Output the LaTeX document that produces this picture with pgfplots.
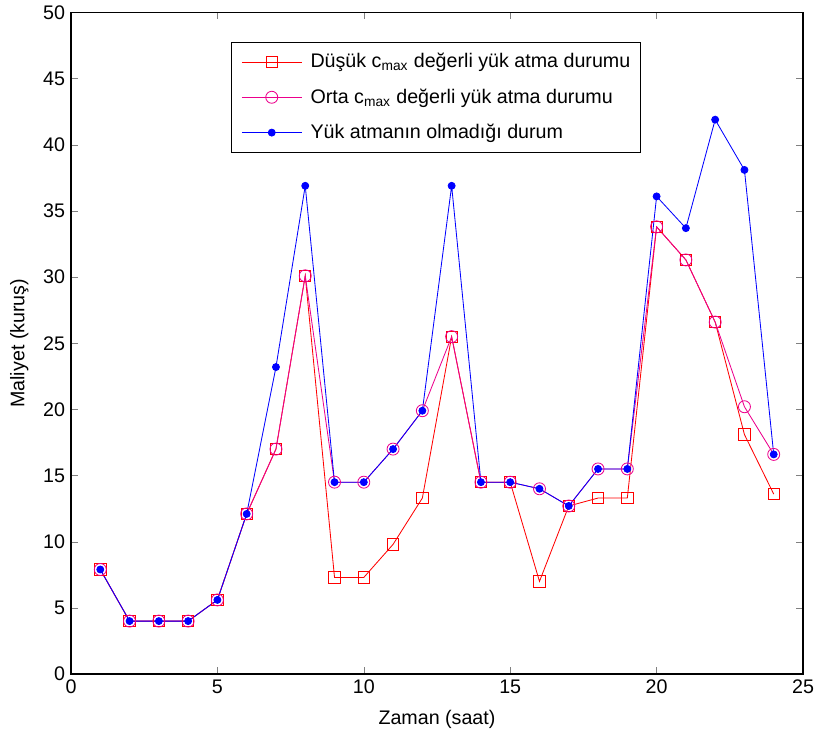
\documentclass[border=0pt]{standalone}
\usepackage{pgfplots}
\pgfplotsset{compat=1.18}
\usepackage{fontspec}
\setmainfont{Liberation Sans}
\begin{document}
\begin{tikzpicture}
\useasboundingbox (-42.6pt,-35.4pt) rectangle (447pt,404.4pt);
\begin{axis}[
  at={(0,0)}, anchor=south west,
  scale only axis, width=439.2pt, height=396.9pt,
  xmin=0, xmax=25, ymin=0, ymax=50,
  xtick={0,5,...,25}, ytick={0,5,...,50},
  tick align=inside, tick pos=both,
  major tick length=4pt,
  /pgf/number format/assume math mode=true,
  tick label style={font=\fontsize{11.8pt}{13pt}\selectfont},
  label style={font=\fontsize{11.8pt}{13pt}\selectfont},
  xlabel={Zaman (saat)}, ylabel={Maliyet (kuruş)},
  xlabel style={yshift=-3pt}, ylabel style={yshift=2pt},
  axis line style={line width=0.8pt},
  legend style={at={(0.2186,0.955)}, anchor=north west,
    font=\fontsize{11.8pt}{13pt}\selectfont, row sep=7pt, inner xsep=4pt, inner ysep=4.5pt,
    cells={anchor=west}},
  legend cell align=left,
  legend image code/.code={
    \path (-2pt,0pt) (39pt,0pt);
    \draw[#1, mark repeat=2, mark phase=2] plot coordinates {(0pt,0pt) (18pt,0pt) (36pt,0pt)};
  },
]
\addplot[color=red, line width=0.5pt, mark=square, mark size=3.4pt, mark options={solid, line width=0.5pt}] coordinates {
(1,7.9) (2,4.0) (3,4.0) (4,4.0) (5,5.6) (6,12.1) (7,17.0) (8,30.1) (9,7.3) (10,7.3)
(11,9.8) (12,13.3) (13,25.5) (14,14.5) (15,14.5) (16,7.0) (17,12.7) (18,13.3) (19,13.3)
(20,33.8) (21,31.3) (22,26.6) (23,18.1) (24,13.6)};
\addlegendentry{Düşük c\textsubscript{max} değerli yük atma durumu}
\addplot[color=magenta, line width=0.5pt, mark=o, mark size=3.6pt, mark options={solid, line width=0.5pt}] coordinates {
(1,7.9) (2,4.0) (3,4.0) (4,4.0) (5,5.6) (6,12.1) (7,17.0) (8,30.1) (9,14.5) (10,14.5)
(11,17.0) (12,19.9) (13,25.5) (14,14.5) (15,14.5) (16,14.0) (17,12.7) (18,15.5) (19,15.5)
(20,33.8) (21,31.3) (22,26.6) (23,20.2) (24,16.6)};
\addlegendentry{Orta c\textsubscript{max} değerli yük atma durumu}
\addplot[color=blue, line width=0.5pt, mark=*, mark size=2.1pt, mark options={solid, fill=blue}] coordinates {
(1,7.9) (2,4.0) (3,4.0) (4,4.0) (5,5.6) (6,12.1) (7,23.2) (8,36.9) (9,14.5) (10,14.5)
(11,17.0) (12,19.9) (13,36.9) (14,14.5) (15,14.5) (16,14.0) (17,12.7) (18,15.5) (19,15.5)
(20,36.1) (21,33.7) (22,41.9) (23,38.1) (24,16.6)};
\addlegendentry{Yük atmanın olmadığı durum}
\end{axis}
\end{tikzpicture}
\end{document}
